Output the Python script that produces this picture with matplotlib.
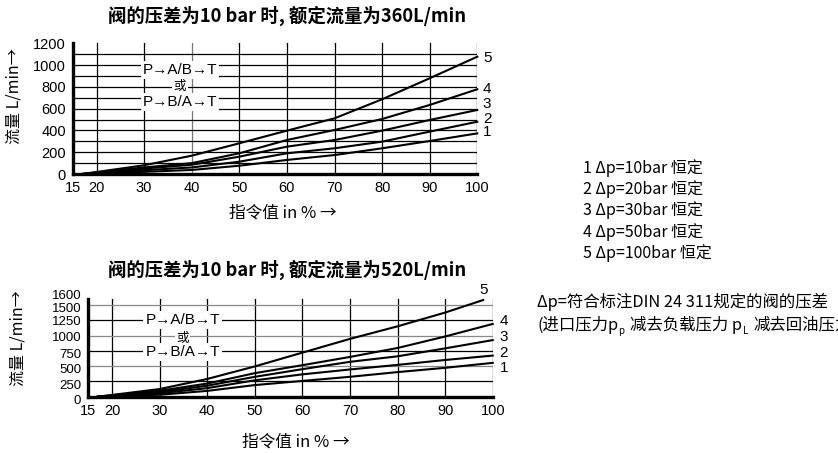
import matplotlib
matplotlib.use("Agg")
import matplotlib.pyplot as plt
import matplotlib.transforms as mtransforms

plt.rcParams['font.family'] = ['Liberation Sans', 'Noto Sans CJK SC', 'DejaVu Sans']
CJK = ['Noto Sans CJK SC', 'DejaVu Sans']

# command value in %
x_pts = [17, 30, 40, 50, 60, 70, 80, 90, 100]
curve_names = ['1', '2', '3', '4', '5']

# nominal flow 360 L/min
top_flow = {
    '1': [0, 20, 37, 76, 129, 174, 236, 303, 373],
    '2': [0, 35, 60, 113, 190, 236, 297, 389, 480],
    '3': [0, 50, 85, 159, 251, 312, 398, 496, 588],
    '4': [0, 60, 100, 190, 312, 404, 505, 634, 778],
    '5': [0, 80, 168, 282, 398, 511, 686, 879, 1077],
}
# nominal flow 520 L/min (curve 5 ends at ~98 %)
bot_x5 = [17, 30, 40, 50, 60, 70, 80, 90, 98]
bot_flow = {
    '1': [0, 32, 95, 190, 258, 325, 402, 472, 553],
    '2': [0, 55, 140, 268, 365, 445, 520, 600, 672],
    '3': [0, 75, 180, 325, 450, 570, 660, 790, 925],
    '4': [0, 97, 215, 385, 515, 650, 796, 984, 1189],
    '5': [0, 125, 290, 495, 720, 945, 1150, 1375, 1580],
}

x_ticks = [15, 20, 30, 40, 50, 60, 70, 80, 90, 100]
x_grid = [20, 30, 40, 50, 60, 70, 80, 90, 100]
top_yticks = [0, 200, 400, 600, 800, 1000, 1200]
top_ygrid = [100, 200, 300, 400, 500, 600, 700, 800, 900, 1000, 1100]
bot_yticks = [0, 250, 500, 750, 1000, 1250, 1500, 1600]
bot_ygrid = [250, 500, 750, 1000, 1250, 1500]

legend_lines = ['1 Δp=10bar 恒定', '2 Δp=20bar 恒定', '3 Δp=30bar 恒定',
                '4 Δp=50bar 恒定', '5 Δp=100bar 恒定']

W, H = 838, 453
fig = plt.figure(figsize=(W / 100, H / 100), dpi=100)


def px(x, y):
    return x / W, 1 - y / H


def setup(ax, yticks, ygrid, ymax, gray_x=(), gray_y=()):
    ax.set_xlim(15, 100)
    ax.set_ylim(0, ymax)
    for xv in x_grid:
        ax.axvline(xv, color='#777777' if xv in gray_x else 'black', lw=0.9, zorder=1)
    for yv in ygrid:
        ax.axhline(yv, color='#888888' if yv in gray_y else 'black', lw=0.9, zorder=1)
    ax.set_xticks(x_ticks)
    ax.set_yticks(yticks)
    ax.tick_params(length=0, labelsize=10.5)
    ax.tick_params(axis='x', pad=5)
    ax.tick_params(axis='y', pad=5)
    for s in ['top', 'right']:
        ax.spines[s].set_visible(False)
    for s in ['left', 'bottom']:
        ax.spines[s].set_linewidth(2.4)
        ax.spines[s].set_zorder(5)


def box_text(ax, x, ys):
    kw = dict(ha='center', va='center', zorder=4,
              bbox=dict(boxstyle='square,pad=0.12', fc='white', ec='none'))
    ax.text(x, ys[0], 'P→A/B→T', fontsize=11, **kw)
    ax.text(x, ys[1], '或', fontsize=9, family=CJK, **kw)
    ax.text(x, ys[2], 'P→B/A→T', fontsize=11, **kw)


# ---------- top chart ----------
ax1 = fig.add_axes([72.7 / W, 1 - 174 / H, 404.6 / W, 130.7 / H])
setup(ax1, top_yticks, top_ygrid, 1200, gray_x=(40,))
for name in curve_names:
    ax1.plot(x_pts, top_flow[name], color='black', lw=1.5, zorder=3, clip_on=False)
top_off = {'1': (4, 1), '2': (4, 2), '3': (4, 4), '4': (4, 0), '5': (4, -1)}
for name in curve_names:
    ax1.annotate(name, (x_pts[-1], top_flow[name][-1]), xytext=top_off[name],
                 textcoords='offset points', ha='left', va='center', fontsize=11,
                 annotation_clip=False)
box_text(ax1, 37.5, [955, 799, 661])

# ---------- bottom chart ----------
ax2 = fig.add_axes([88.3 / W, 1 - 396.7 / H, 404.4 / W, 97.9 / H])
setup(ax2, bot_yticks, bot_ygrid, 1600, gray_y=(500, 1000, 1500))
ax2.tick_params(axis='y', labelsize=9.5)
for name in curve_names:
    xs = bot_x5 if name == '5' else x_pts
    ax2.plot(xs, bot_flow[name], color='black', lw=1.5, zorder=3, clip_on=False)
bot_off = {'1': (5, -4), '2': (5, 2), '3': (5, 2), '4': (5, 2)}
for name in ['1', '2', '3', '4']:
    ax2.annotate(name, (x_pts[-1], bot_flow[name][-1]), xytext=bot_off[name],
                 textcoords='offset points', ha='left', va='center', fontsize=11,
                 annotation_clip=False)
ax2.annotate('5', (bot_x5[-1], bot_flow['5'][-1]), xytext=(0, 7),
             textcoords='offset points', ha='center', va='center', fontsize=11,
             annotation_clip=False)
box_text(ax2, 34.8, [1253, 959, 730])

# spread the crowded 1600 / 1500 labels
labels = ax2.get_yticklabels()
for lab, dy in zip(labels, [-2, -2, -2, -2, -1, 0, -2, 3]):
    lab.set_transform(lab.get_transform() +
                      mtransforms.ScaledTranslation(0, dy / 72, fig.dpi_scale_trans))

# ---------- titles and axis labels ----------
fig.text(*px(287.5, 16), '阀的压差为10 bar 时, 额定流量为360L/min', family=CJK,
         fontsize=13.2, fontweight='bold', ha='center', va='center')
fig.text(*px(287.5, 270), '阀的压差为10 bar 时, 额定流量为520L/min', family=CJK,
         fontsize=13.2, fontweight='bold', ha='center', va='center')
fig.text(*px(14, 96), '流量 L/min→', family=CJK, fontsize=11.5, rotation=90,
         ha='center', va='center')
fig.text(*px(18, 338), '流量 L/min→', family=CJK, fontsize=11.5, rotation=90,
         ha='center', va='center')
fig.text(*px(283, 213), '指令值 in % →', family=CJK, fontsize=12,
         ha='center', va='center')
fig.text(*px(296, 442), '指令值 in % →', family=CJK, fontsize=12,
         ha='center', va='center')

# ---------- right-hand notes ----------
for i, line in enumerate(legend_lines):
    fig.text(*px(583, 168 + 21.2 * i), line, family=CJK, fontsize=11.5,
             ha='left', va='center')
fig.text(*px(537, 302), 'Δp=符合标注DIN 24 311规定的阀的压差', family=CJK,
         fontsize=11.8, ha='left', va='center')

base_y = 1 - 330 / H
parts = [('p', True), ('减去负载压力 p', False), ('L', True), ('减去回油压力)', False)]
prev = fig.text(537 / W, base_y, '(进口压力p', family=CJK, fontsize=11.8,
                ha='left', va='baseline')
for txt, sub in parts:
    prev = ax2.annotate(txt, xy=(1, base_y), xycoords=(prev, 'figure fraction'),
                        xytext=(0.3, -3) if sub else (4, 0),
                        textcoords='offset points', family=CJK,
                        fontsize=7 if sub else 11.8, ha='left', va='baseline',
                        annotation_clip=False)

fig.savefig('out.png', dpi=100)
